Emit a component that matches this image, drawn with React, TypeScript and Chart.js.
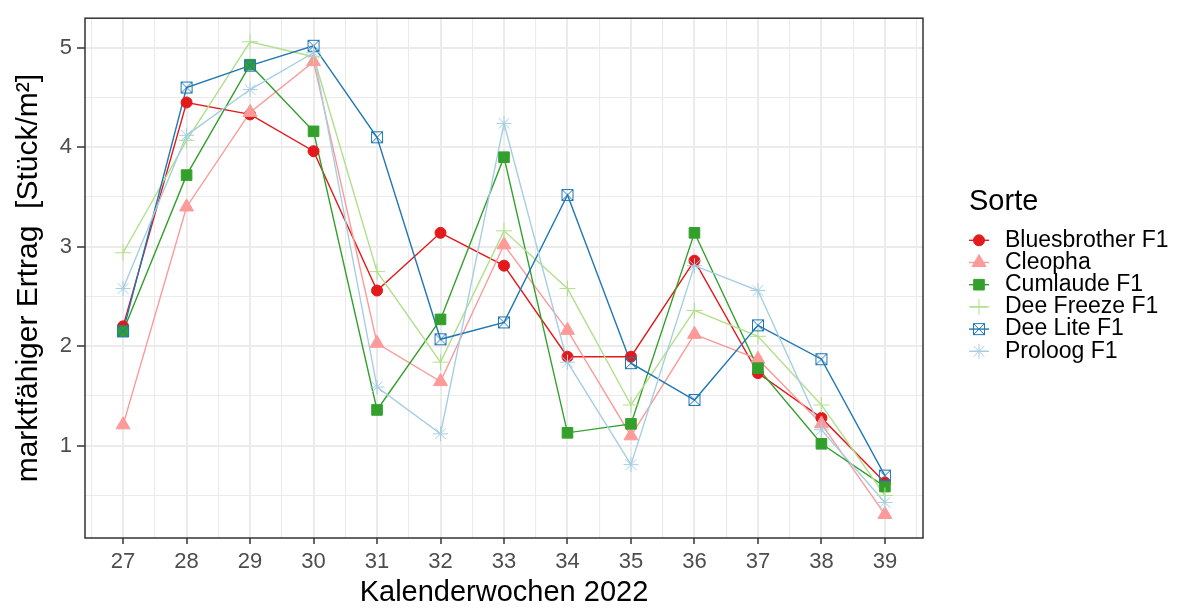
import React, { useEffect, useRef } from 'react';
import { Chart, registerables } from 'chart.js';
import { drawPoint } from 'chart.js/helpers';

Chart.register(...registerables);

const FONT = '"Liberation Sans", Arial, Helvetica, sans-serif';

const WEEKS = [27, 28, 29, 30, 31, 32, 33, 34, 35, 36, 37, 38, 39];
const SERIES_NAMES = ['Bluesbrother F1', 'Cleopha', 'Cumlaude F1', 'Dee Freeze F1', 'Dee Lite F1', 'Proloog F1'];
const BLUESBROTHER = [2.2, 4.45, 4.33, 3.96, 2.56, 3.14, 2.81, 1.895, 1.895, 2.86, 1.73, 1.28, 0.63];
const CLEOPHA = [1.21, 3.4, 4.35, 4.86, 2.03, 1.645, 3.02, 2.16, 1.1, 2.12, 1.87, 1.22, 0.31];
const CUMLAUDE = [2.15, 3.72, 4.83, 4.16, 1.36, 2.27, 3.9, 1.13, 1.22, 3.14, 1.78, 1.02, 0.59];
const DEE_FREEZE = [2.94, 4.07, 5.06, 4.91, 2.75, 1.84, 3.16, 2.58, 1.41, 2.36, 2.1, 1.41, 0.5];
const DEE_LITE = [2.15, 4.6, 4.82, 5.02, 4.1, 2.07, 2.24, 3.52, 1.83, 1.46, 2.21, 1.87, 0.7];
const PROLOOG = [2.58, 4.12, 4.58, 4.95, 1.59, 1.12, 4.24, 1.84, 0.81, 2.81, 2.56, 1.16, 0.43];
const SERIES_VALUES = [BLUESBROTHER, CLEOPHA, CUMLAUDE, DEE_FREEZE, DEE_LITE, PROLOOG];
const COLORS = ['#E31A1C', '#FB9A99', '#33A02C', '#B2DF8A', '#1F78B4', '#A6CEE3'];

const Y_TICKS_MAJOR = [1, 2, 3, 4, 5];
const Y_TICKS_MINOR = [0.5, 1.5, 2.5, 3.5, 4.5];
const X_MIN = 26.4;
const X_MAX = 39.6;
const Y_MIN = 0.073;
const Y_MAX = 5.297;

function makeBoxCross(color: string) {
  const s = 14;
  const c = document.createElement('canvas');
  c.width = s;
  c.height = s;
  const g = c.getContext('2d')!;
  g.strokeStyle = color;
  g.lineWidth = 1;
  g.strokeRect(1.5, 1.5, 11, 11);
  g.beginPath();
  g.moveTo(1.5, 1.5);
  g.lineTo(12.5, 12.5);
  g.moveTo(12.5, 1.5);
  g.lineTo(1.5, 12.5);
  g.stroke();
  return c;
}

export default function App() {
  const ref = useRef<HTMLCanvasElement | null>(null);

  useEffect(() => {
    document.body.style.margin = '0';
    const canvas = ref.current;
    if (!canvas) return;

    const boxCross = makeBoxCross(COLORS[4]);
    const styles: any[] = ['circle', 'triangle', 'rect', 'cross', boxCross, 'star'];
    const radii = [5.5, 8, 7.5, 8, 7, 7.5];

    const lineSets = SERIES_NAMES.map((name, i) => ({
      type: 'line' as const,
      label: name,
      data: WEEKS.map((w, j) => ({ x: w, y: SERIES_VALUES[i][j] })),
      borderColor: COLORS[i],
      borderWidth: 1.4,
      pointRadius: 0,
      fill: false,
      tension: 0,
      order: 100 - i,
    }));
    const pointSets = SERIES_NAMES.map((name, i) => ({
      type: 'line' as const,
      label: name + ' pts',
      data: WEEKS.map((w, j) => ({ x: w, y: SERIES_VALUES[i][j] })),
      showLine: false,
      borderColor: COLORS[i],
      backgroundColor: COLORS[i],
      pointStyle: styles[i],
      pointRadius: radii[i],
      pointBackgroundColor: COLORS[i],
      pointBorderColor: COLORS[i],
      pointBorderWidth: 1,
      clip: false as any,
      order: 50 - i,
    }));

    const decor = {
      id: 'decor',
      afterDraw(chart: any) {
        const { ctx, chartArea: a } = chart;
        ctx.save();
        ctx.strokeStyle = '#333333';
        ctx.lineWidth = 1.5;
        ctx.strokeRect(a.left, a.top, a.right - a.left, a.bottom - a.top);

        ctx.fillStyle = '#000000';
        ctx.font = `29px ${FONT}`;
        ctx.textAlign = 'left';
        ctx.textBaseline = 'alphabetic';
        ctx.fillText('Sorte', 969, 210);
        SERIES_NAMES.forEach((name, i) => {
          const y = 240.3 + i * 22.2;
          ctx.strokeStyle = COLORS[i];
          ctx.lineWidth = 1.4;
          ctx.beginPath();
          ctx.moveTo(969, y);
          ctx.lineTo(989, y);
          ctx.stroke();
          ctx.fillStyle = COLORS[i];
          ctx.strokeStyle = COLORS[i];
          ctx.lineWidth = 1;
          drawPoint(ctx, { pointStyle: styles[i], radius: radii[i], borderWidth: 1, rotation: 0 } as any, 979, y);
          ctx.fillStyle = '#000000';
          ctx.font = `23px ${FONT}`;
          ctx.textBaseline = 'middle';
          ctx.fillText(name, 1005, y);
        });
        ctx.restore();
      },
    };

    const isMajor = (v: number) => Math.abs(v - Math.round(v)) < 1e-6;

    const chart = new Chart(canvas, {
      type: 'line',
      data: { datasets: [...lineSets, ...pointSets] as any },
      options: {
        animation: false,
        responsive: false,
        events: [],
        layout: { padding: { left: 0, right: 257, top: 8, bottom: 0 } },
        plugins: { legend: { display: false }, tooltip: { enabled: false } },
        scales: {
          x: {
            type: 'linear',
            min: X_MIN,
            max: X_MAX,
            afterBuildTicks: (s: any) => {
              const vals: number[] = [];
              WEEKS.forEach((w) => { vals.push(w - 0.5); vals.push(w); });
              vals.push(WEEKS[WEEKS.length - 1] + 0.5);
              s.ticks = vals.map((v) => ({ value: v }));
            },
            afterFit: (s: any) => { s.height = 72; },
            ticks: {
              autoSkip: false,
              maxRotation: 0,
              minRotation: 0,
              padding: 4.8,
              color: '#4D4D4D',
              font: { family: FONT, size: 22 },
              callback: (v: any) => (isMajor(Number(v)) ? String(Math.round(Number(v))) : ''),
            },
            grid: {
              color: '#EBEBEB',
              lineWidth: (c: any) => (c.tick && isMajor(c.tick.value) ? 2 : 1.1),
              tickColor: (c: any) => (c.tick && isMajor(c.tick.value) ? '#333333' : 'rgba(0,0,0,0)'),
              tickWidth: 1.5,
              tickLength: 6,
              drawTicks: true,
            } as any,
            border: { display: false },
            title: {
              display: true,
              text: 'Kalenderwochen 2022',
              color: '#000000',
              font: { family: FONT, size: 29 },
              padding: { top: 0, bottom: 0 },
            },
          },
          y: {
            type: 'linear',
            min: Y_MIN,
            max: Y_MAX,
            afterBuildTicks: (s: any) => {
              const vals = [...Y_TICKS_MINOR, ...Y_TICKS_MAJOR].sort((p, q) => p - q);
              s.ticks = vals.map((v) => ({ value: v }));
            },
            afterFit: (s: any) => { s.width = 85; },
            ticks: {
              autoSkip: false,
              padding: 5,
              color: '#4D4D4D',
              font: { family: FONT, size: 22 },
              callback: (v: any) => (isMajor(Number(v)) ? String(Math.round(Number(v))) : ''),
            },
            grid: {
              color: '#EBEBEB',
              lineWidth: (c: any) => (c.tick && isMajor(c.tick.value) ? 2 : 1.1),
              tickColor: (c: any) => (c.tick && isMajor(c.tick.value) ? '#333333' : 'rgba(0,0,0,0)'),
              tickWidth: 1.5,
              tickLength: 8,
              drawTicks: true,
            } as any,
            border: { display: false },
            title: {
              display: true,
              text: 'marktfähiger Ertrag  [Stück/m²]',
              color: '#000000',
              font: { family: FONT, size: 30 },
              padding: { top: 11, bottom: 0 },
            },
          },
        },
      },
      plugins: [decor],
    });

    return () => chart.destroy();
  }, []);

  return (
    <div style={{ width: 1180, height: 610, background: '#ffffff' }}>
      <canvas ref={ref} width={1180} height={610} style={{ display: 'block' }} />
    </div>
  );
}
